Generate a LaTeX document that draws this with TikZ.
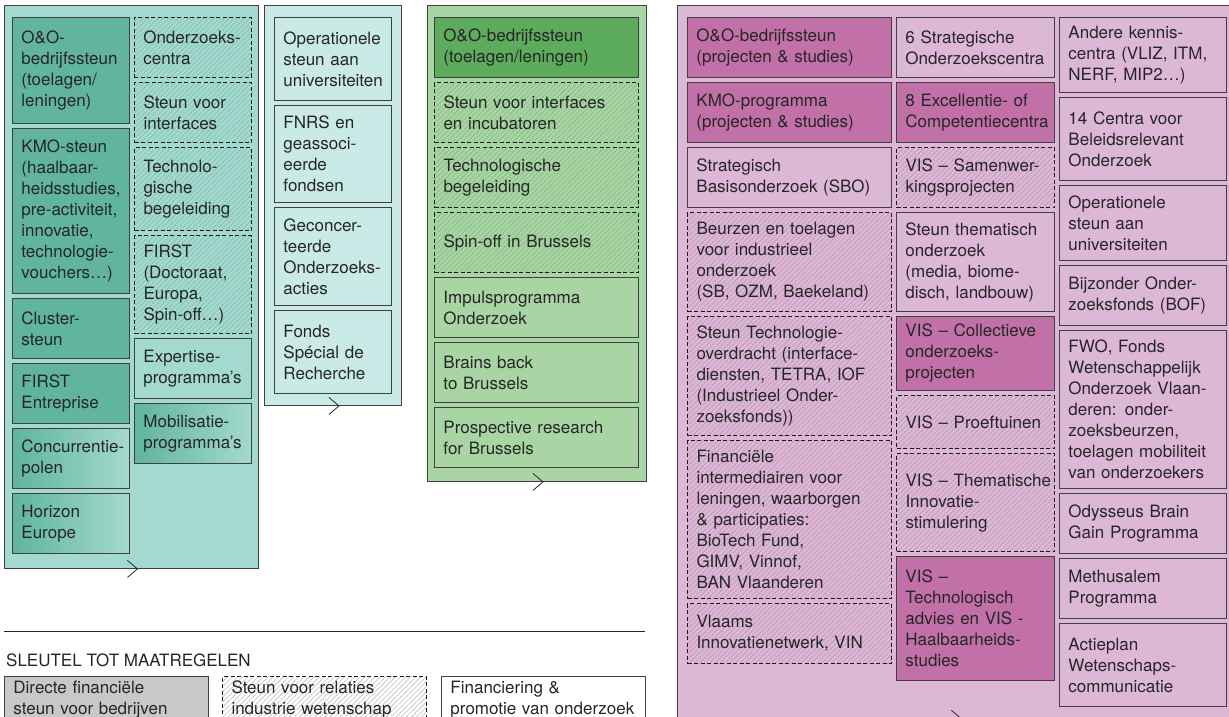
\documentclass[tikz,border=0pt]{standalone}
\usepackage{fontspec}
\setmainfont{TeX Gyre Heros}
\usetikzlibrary{patterns.meta}
\definecolor{tealbg}{HTML}{A4D9CF}
\definecolor{tealdk}{HTML}{60B59C}
\definecolor{tealhatch}{HTML}{80BDB2}
\definecolor{cyanbg}{HTML}{C9EAE6}
\definecolor{greenbg}{HTML}{A8D5A3}
\definecolor{greendk}{HTML}{5DAB5D}
\definecolor{greenhatch}{HTML}{86B981}
\definecolor{pinkbg}{HTML}{DDB7D6}
\definecolor{pinkdk}{HTML}{C270A8}
\definecolor{pinkhatch}{HTML}{BD96B6}
\definecolor{keygrey}{HTML}{C8C8C8}
\definecolor{keyhatch}{HTML}{BDBDBD}
\hyphenpenalty=10000
\exhyphenpenalty=10000
\begin{document}
\begin{tikzpicture}
        [x=1pt, y=-1pt,
        box/.style={draw=black!75, line width=0.9pt, anchor=north west, inner xsep=9pt, inner ysep=0pt,
                    align=left, text=black!85, font=\fontsize{17}{21}\selectfont},
        dark/.style={box, fill=#1},
        faded/.style={box, left color=tealdk, right color=tealbg},
        hatched/.style={box, draw=black!90, line width=1pt, dash pattern=on 4pt off 2.5pt,
                        pattern={Lines[angle=45, distance=3.6pt, line width=0.6pt]}, pattern color=#1},
        panel/.style={draw=black!75, line width=0.9pt, anchor=north west, inner sep=0pt},
        chevron/.style={draw=black!85, line width=0.8pt},
        narrow/.style={text width=99pt},
        medium/.style={text width=140pt},
        semi/.style={text width=149pt},
        wide/.style={text width=186pt}]

        \useasboundingbox (0,0) rectangle (1229,716);

        % panels
        \node[panel, fill=tealbg, minimum width=254pt, minimum height=563pt] (teal) at (4,5) {};
        \node[panel, fill=cyanbg, minimum width=137pt, minimum height=400pt] (cyan) at (264,5) {};
        \node[panel, fill=greenbg, minimum width=219pt, minimum height=476pt] (green) at (427,5) {};
        \node[panel, fill=pinkbg, minimum width=556pt, minimum height=713pt] (pink) at (677,5) {};

        % little arrows under the panels
        \draw[chevron] ([xshift=-4pt, yshift=8.5pt]teal.south) -- ++(10pt,-8.5pt) -- ++(-10pt,-8.5pt);
        \draw[chevron] ([xshift=-4pt, yshift=8.5pt]cyan.south) -- ++(10pt,-8.5pt) -- ++(-10pt,-8.5pt);
        \draw[chevron] ([xshift=-4pt, yshift=8.5pt]green.south) -- ++(10pt,-8.5pt) -- ++(-10pt,-8.5pt);
        \draw[chevron] ([xshift=-4pt, yshift=8.5pt]pink.south) -- ++(10pt,-8.5pt) -- ++(-10pt,-8.5pt);

        % teal panel, left column
        \node[dark=tealdk, narrow, minimum height=106pt] (tOO) at (12,17) {O\&O-\\bedrijfssteun\\(toelagen/\\leningen)};
        \node[dark=tealdk, narrow, minimum height=165pt] (tKMO) at (12,128) {KMO-steun\\(haalbaar-\\heidsstudies,\\pre-activiteit,\\innovatie,\\technologie-\\vouchers…)};
        \node[dark=tealdk, narrow, minimum height=60pt] (tCluster) at (12,298) {Cluster-\\steun};
        \node[dark=tealdk, narrow, minimum height=60pt] (tFirstE) at (12,363) {FIRST\\Entreprise};
        \node[faded, narrow, minimum height=60pt] (tPolen) at (12,428) {Concurrentie-\\polen};
        \node[faded, narrow, minimum height=60pt] (tHorizon) at (12,493) {Horizon\\Europe};
        % teal panel, right column
        \node[hatched=tealhatch, narrow, minimum height=60pt] (tCentra) at (134,17) {Onderzoeks-\\centra};
        \node[hatched=tealhatch, narrow, minimum height=60pt] (tInterf) at (134,82) {Steun voor\\interfaces};
        \node[hatched=tealhatch, narrow, minimum height=83pt] (tTechn) at (134,147) {Technolo-\\gische\\begeleiding};
        \node[hatched=tealhatch, narrow, minimum height=98pt] (tFirst) at (134,235) {FIRST\\(Doctoraat,\\Europa,\\Spin-off…)};
        \node[box, narrow, minimum height=60pt] (tExpert) at (134,338) {Expertise-\\programma’s};
        \node[faded, narrow, minimum height=60pt] (tMobil) at (134,403) {Mobilisatie-\\programma’s};

        % cyan panel
        \node[box, narrow, minimum height=83pt] (cOper) at (274,17) {Operationele\\steun aan\\universiteiten};
        \node[box, narrow, minimum height=97pt] (cFNRS) at (274,105) {FNRS en\\geassoci-\\eerde\\fondsen};
        \node[box, narrow, minimum height=98pt] (cGecon) at (274,207) {Geconcer-\\teerde\\Onderzoeks-\\acties};
        \node[box, narrow, minimum height=83pt] (cFonds) at (274,310) {Fonds\\Spécial de\\Recherche};

        % green panel
        \node[dark=greendk, wide, minimum height=60pt] (gOO) at (434,17) {O\&O-bedrijfssteun\\(toelagen/leningen)};
        \node[hatched=greenhatch, wide, minimum height=60pt] (gInterf) at (434,82) {Steun voor interfaces\\en incubatoren};
        \node[hatched=greenhatch, wide, minimum height=60pt] (gTechn) at (434,147) {Technologische\\begeleiding};
        \node[hatched=greenhatch, wide, minimum height=60pt] (gSpin) at (434,212) {Spin-off in Brussels};
        \node[box, wide, minimum height=60pt] (gImpuls) at (434,277) {Impulsprogramma\\Onderzoek};
        \node[box, wide, minimum height=60pt] (gBrains) at (434,342) {Brains back\\to Brussels};
        \node[box, wide, minimum height=60pt] (gProsp) at (434,407) {Prospective research\\for Brussels};

        % pink panel, first column
        \node[dark=pinkdk, wide, minimum height=60pt] (pOO) at (687,17) {O\&O-bedrijfssteun\\(projecten \& studies)};
        \node[dark=pinkdk, wide, minimum height=60pt] (pKMO) at (687,82) {KMO-programma\\(projecten \& studies)};
        \node[box, wide, minimum height=60pt] (pSBO) at (687,147) {Strategisch\\Basisonderzoek (SBO)};
        \node[hatched=pinkhatch, wide, minimum height=99pt] (pBeurzen) at (687,212) {Beurzen en toelagen\\voor industrieel\\onderzoek\\(SB, OZM, Baekeland)};
        \node[hatched=pinkhatch, wide, minimum height=119pt] (pOverdr) at (687,316) {Steun Technologie-\\overdracht (interface-\\diensten, TETRA, IOF\\(Industrieel Onder-\\zoeksfonds))};
        \node[hatched=pinkhatch, wide, minimum height=158pt] (pFinanc) at (687,440) {Financiële\\intermediairen voor\\leningen, waarborgen\\\& participaties:\\BioTech Fund,\\GIMV, Vinnof,\\BAN Vlaanderen};
        \node[hatched=pinkhatch, wide, minimum height=60pt] (pVIN) at (687,603) {Vlaams\\Innovatienetwerk, VIN};
        % pink panel, second column
        \node[box, medium, minimum height=60pt] (pSOC) at (896,17) {6 Strategische\\Onderzoekscentra};
        \node[dark=pinkdk, medium, minimum height=60pt] (pExcel) at (896,82) {8 Excellentie- of\\Competentiecentra};
        \node[hatched=pinkhatch, medium, minimum height=60pt] (pSamen) at (896,147) {VIS~–~Samenwer-\\kingsprojecten};
        \node[box, medium, minimum height=99pt] (pThema) at (896,212) {Steun thematisch\\onderzoek\\(media, biome-\\disch, landbouw)};
        \node[dark=pinkdk, medium, minimum height=74pt] (pCollect) at (896,316) {VIS~–~Collectieve\\onderzoeks-\\projecten};
        \node[hatched=pinkhatch, medium, minimum height=53pt] (pProef) at (896,395) {VIS~–~Proeftuinen};
        \node[hatched=pinkhatch, medium, minimum height=98pt] (pInnov) at (896,453) {VIS~–~Thematische\\Innovatie-\\stimulering};
        \node[dark=pinkdk, medium, minimum height=124pt] (pAdvies) at (896,556) {VIS –\\Technologisch\\advies en VIS -\\Haalbaarheids-\\studies};
        % pink panel, third column
        \node[box, semi, minimum height=75pt] (pKennis) at (1059,17) {Andere kennis-\\centra (VLIZ, ITM,\\NERF, MIP2…)};
        \node[box, semi, minimum height=83pt] (pBeleid) at (1059,97) {14 Centra voor\\Beleidsrelevant\\Onderzoek};
        \node[box, semi, minimum height=75pt] (pOper) at (1059,185) {Operationele\\steun aan\\universiteiten};
        \node[box, semi, minimum height=60pt] (pBOF) at (1059,265) {Bijzonder Onder-\\zoeksfonds (BOF)};
        \node[box, semi, minimum height=158pt] (pFWO) at (1059,330) {FWO, Fonds\\Wetenschappelijk\\Onderzoek Vlaan-\\deren: onder-\\zoeksbeurzen,\\toelagen mobiliteit\\van onderzoekers};
        \node[box, semi, minimum height=60pt] (pOdyss) at (1059,493) {Odysseus Brain\\Gain Programma};
        \node[box, semi, minimum height=60pt] (pMethus) at (1059,558) {Methusalem\\Programma};
        \node[box, semi, minimum height=83pt] (pActie) at (1059,623) {Actieplan\\Wetenschaps-\\communicatie};

        % key
        \coordinate (keyL) at (4,631);
        \coordinate (keyR) at (645,631);
        \draw[line width=0.9pt, black!85] (keyL) -- (keyR);
        \node[anchor=base west, inner sep=0pt, text=black!85, font=\fontsize{17}{21}\selectfont] (keytitle) at (6,666) {SLEUTEL TOT MAATREGELEN};
        \node[dark=keygrey, wide, minimum height=46pt] (keyDirect) at (4,676) {Directe financiële\\steun voor bedrijven};
        \node[hatched=keyhatch, wide, minimum height=46pt] (keyRelatie) at (222,676) {Steun voor relaties\\industrie wetenschap};
        \node[box, wide, minimum height=46pt] (keyOnderz) at (441,676) {Financiering \&\\promotie van onderzoek};

        \end{tikzpicture}
\end{document}
